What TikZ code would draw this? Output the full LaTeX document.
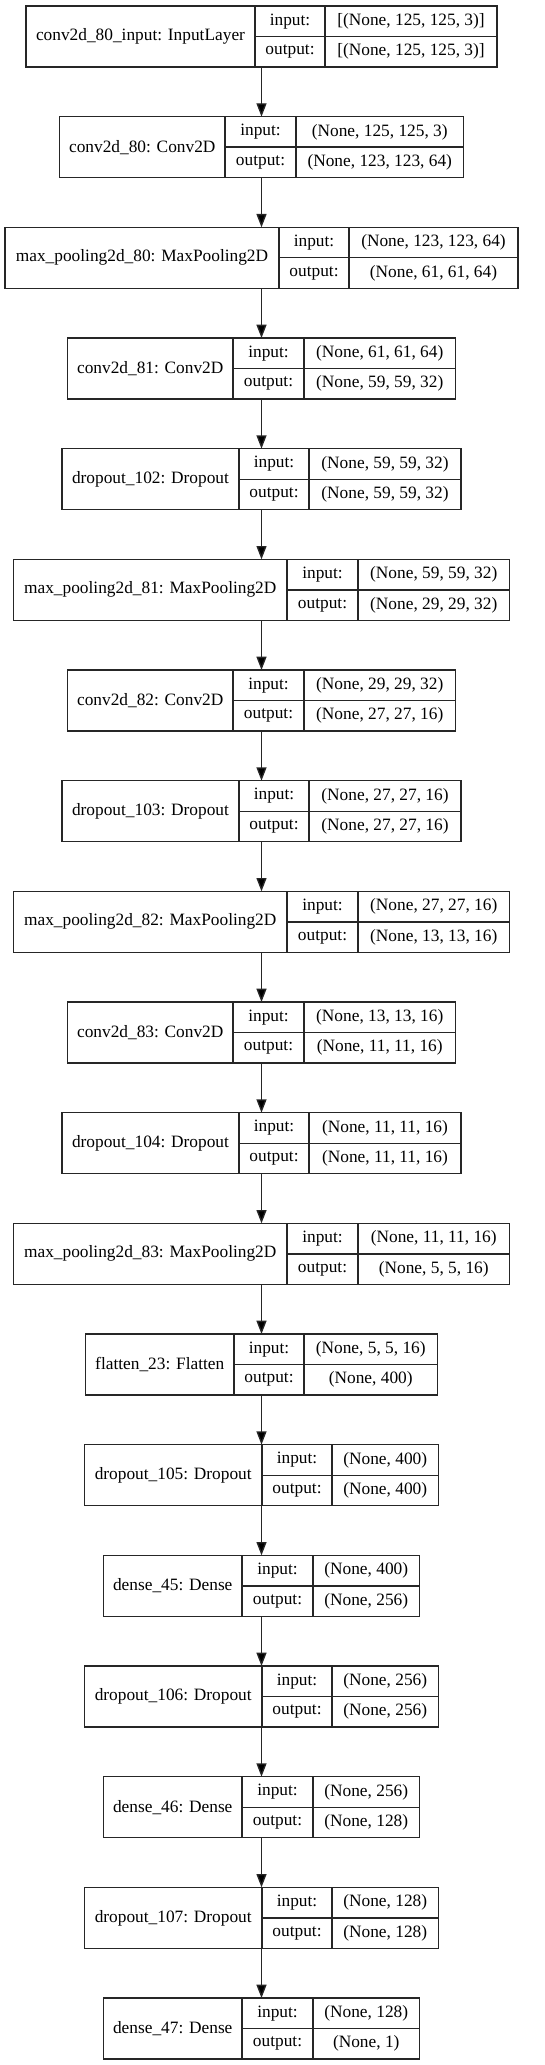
\documentclass[tikz,border=0pt]{standalone}
\usepackage{fontspec}
\setmainfont{Liberation Serif}
\usetikzlibrary{arrows.meta}

\begin{document}
\begin{tikzpicture}[
    x=0.75pt, y=-0.75pt,
    layer/.style={rectangle, draw=none, outer sep=0pt, inner sep=0pt, minimum height=45.75pt},
    cell/.style={rectangle, draw=black!85, line width=1pt, outer sep=0pt, inner sep=0pt, minimum height=22.875pt, anchor=north west, font=\fontsize{13}{15}\selectfont},
    flow/.style={-{Triangle[length=10pt, width=7.5pt, fill=black]}, line width=1pt, draw=black!85}
]
\useasboundingbox (0,0) rectangle (544,2065);

% Layers: name / half width / input column / shape column / label / input shape / output shape
\foreach \nm/\hw/\xa/\xb/\lbl/\vin/\vout [count=\i] in {
    input/235.5/255/325/{conv2d\_80\_input: InputLayer}/{[(None, 125, 125, 3)]}/{[(None, 125, 125, 3)]},
    conv80/202/225/296/{conv2d\_80: Conv2D}/{(None, 125, 125, 3)}/{(None, 123, 123, 64)},
    pool80/256.5/279/349/{max\_pooling2d\_80: MaxPooling2D}/{(None, 123, 123, 64)}/{(None, 61, 61, 64)},
    conv81/194/233/304/{conv2d\_81: Conv2D}/{(None, 61, 61, 64)}/{(None, 59, 59, 32)},
    drop102/199.5/239/309/{dropout\_102: Dropout}/{(None, 59, 59, 32)}/{(None, 59, 59, 32)},
    pool81/248/287/358/{max\_pooling2d\_81: MaxPooling2D}/{(None, 59, 59, 32)}/{(None, 29, 29, 32)},
    conv82/194/233/304/{conv2d\_82: Conv2D}/{(None, 29, 29, 32)}/{(None, 27, 27, 16)},
    drop103/199.5/239/309/{dropout\_103: Dropout}/{(None, 27, 27, 16)}/{(None, 27, 27, 16)},
    pool82/248/287/358/{max\_pooling2d\_82: MaxPooling2D}/{(None, 27, 27, 16)}/{(None, 13, 13, 16)},
    conv83/194/233/304/{conv2d\_83: Conv2D}/{(None, 13, 13, 16)}/{(None, 11, 11, 16)},
    drop104/199.5/239/309/{dropout\_104: Dropout}/{(None, 11, 11, 16)}/{(None, 11, 11, 16)},
    pool83/248/287/358/{max\_pooling2d\_83: MaxPooling2D}/{(None, 11, 11, 16)}/{(None, 5, 5, 16)},
    flat23/176/234/304/{flatten\_23: Flatten}/{(None, 5, 5, 16)}/{(None, 400)},
    drop105/177/262/332/{dropout\_105: Dropout}/{(None, 400)}/{(None, 400)},
    dense45/158/242/313/{dense\_45: Dense}/{(None, 400)}/{(None, 256)},
    drop106/177/262/332/{dropout\_106: Dropout}/{(None, 256)}/{(None, 256)},
    dense46/158/242/313/{dense\_46: Dense}/{(None, 256)}/{(None, 128)},
    drop107/177/262/332/{dropout\_107: Dropout}/{(None, 128)}/{(None, 128)},
    dense47/158/242/313/{dense\_47: Dense}/{(None, 128)}/{(None, 1)}} {
    \pgfmathsetmacro{\ytop}{6+110.667*(\i-1)}
    \pgfmathsetmacro{\xl}{261.5-\hw}
    \pgfmathsetmacro{\xr}{261.5+\hw}
    \node[layer, minimum width={2*\hw*0.75pt}] (\nm) at (261.5, \ytop+30.5) {};
    \node[cell, minimum height=45.75pt, minimum width={(\xa-\xl)*0.75pt}] (\nm-name) at (\xl, \ytop) {\lbl};
    \node[cell, minimum width={(\xb-\xa)*0.75pt}] (\nm-in) at (\xa, \ytop) {input:};
    \node[cell, minimum width={(\xb-\xa)*0.75pt}] (\nm-out) at (\xa, \ytop+30.5) {output:};
    \node[cell, minimum width={(\xr-\xb)*0.75pt}] (\nm-vin) at (\xb, \ytop) {\vin};
    \node[cell, minimum width={(\xr-\xb)*0.75pt}] (\nm-vout) at (\xb, \ytop+30.5) {\vout};
}

% Connections
\foreach \u/\v in {input/conv80, conv80/pool80, pool80/conv81, conv81/drop102, drop102/pool81,
    pool81/conv82, conv82/drop103, drop103/pool82, pool82/conv83, conv83/drop104, drop104/pool83,
    pool83/flat23, flat23/drop105, drop105/dense45, dense45/drop106, drop106/dense46,
    dense46/drop107, drop107/dense47}
   \draw[flow] (\u) -- (\v);

\end{tikzpicture}
\end{document}
